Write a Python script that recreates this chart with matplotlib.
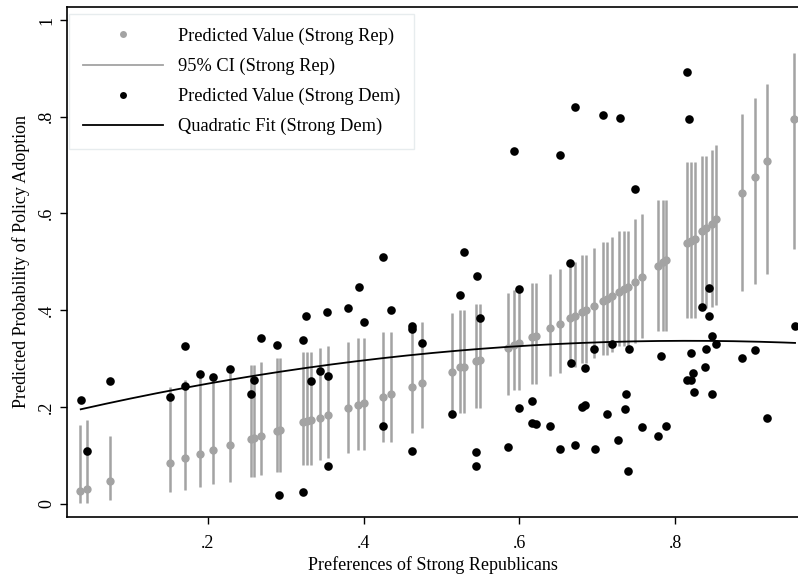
import numpy as np
import matplotlib
matplotlib.use("Agg")
import matplotlib.pyplot as plt
from matplotlib.lines import Line2D

plt.rcParams["font.family"] = ["Liberation Serif", "DejaVu Serif"]

# Strong Republicans: predicted value with 95% CI
rep_x = [0.036, 0.045, 0.074, 0.151, 0.171, 0.1905, 0.207, 0.228, 0.255, 0.259,
         0.268, 0.289, 0.293, 0.322, 0.327, 0.332, 0.344, 0.355, 0.380, 0.393,
         0.401, 0.425, 0.435, 0.462, 0.475, 0.513, 0.524, 0.529, 0.544, 0.550,
         0.585, 0.593, 0.600, 0.616, 0.622, 0.640, 0.652, 0.665, 0.672, 0.681,
         0.685, 0.696, 0.708, 0.713, 0.719, 0.728, 0.735, 0.740, 0.749, 0.757,
         0.778, 0.784, 0.788, 0.815, 0.820, 0.826, 0.834, 0.840, 0.847, 0.852,
         0.886, 0.903, 0.918, 0.953]
rep_y = [0.027, 0.030, 0.047, 0.085, 0.094, 0.103, 0.111, 0.121, 0.134, 0.136,
         0.140, 0.151, 0.152, 0.168, 0.170, 0.172, 0.178, 0.183, 0.197, 0.204,
         0.208, 0.221, 0.226, 0.242, 0.250, 0.273, 0.282, 0.283, 0.294, 0.297,
         0.321, 0.328, 0.332, 0.344, 0.347, 0.363, 0.372, 0.383, 0.387, 0.397,
         0.401, 0.409, 0.420, 0.424, 0.430, 0.438, 0.443, 0.449, 0.459, 0.469,
         0.492, 0.500, 0.504, 0.539, 0.543, 0.548, 0.563, 0.569, 0.578, 0.588,
         0.643, 0.676, 0.709, 0.796]
rep_lo = [0.002, 0.002, 0.008, 0.025, 0.028, 0.035, 0.040, 0.045, 0.056, 0.056,
          0.059, 0.066, 0.066, 0.080, 0.080, 0.080, 0.090, 0.094, 0.105, 0.112,
          0.112, 0.128, 0.128, 0.147, 0.156, 0.187, 0.188, 0.188, 0.197, 0.197,
          0.225, 0.235, 0.235, 0.248, 0.248, 0.263, 0.271, 0.283, 0.283, 0.291,
          0.291, 0.301, 0.308, 0.308, 0.314, 0.325, 0.325, 0.325, 0.332, 0.342,
          0.358, 0.358, 0.358, 0.383, 0.383, 0.383, 0.405, 0.405, 0.407, 0.411,
          0.440, 0.455, 0.474, 0.526]
rep_hi = [0.163, 0.173, 0.140, 0.242, 0.256, 0.263, 0.263, 0.271, 0.287, 0.287,
          0.293, 0.301, 0.301, 0.314, 0.314, 0.314, 0.321, 0.325, 0.335, 0.342,
          0.342, 0.354, 0.354, 0.359, 0.375, 0.394, 0.401, 0.401, 0.412, 0.412,
          0.435, 0.442, 0.442, 0.457, 0.457, 0.474, 0.486, 0.500, 0.500, 0.514,
          0.514, 0.528, 0.540, 0.540, 0.552, 0.564, 0.564, 0.564, 0.588, 0.599,
          0.628, 0.628, 0.628, 0.707, 0.707, 0.707, 0.718, 0.718, 0.732, 0.742,
          0.806, 0.838, 0.868, 0.932]

# Strong Democrats: predicted value
dem_x = [0.037, 0.045, 0.074, 0.152, 0.171, 0.171, 0.1905, 0.207, 0.228, 0.259,
         0.255, 0.268, 0.289, 0.322, 0.326, 0.332, 0.344, 0.292, 0.322, 0.355,
         0.353, 0.354, 0.380, 0.394, 0.401, 0.425, 0.435, 0.425, 0.462, 0.462,
         0.475, 0.462, 0.513, 0.524, 0.529, 0.546, 0.550, 0.545, 0.544, 0.593,
         0.599, 0.600, 0.585, 0.616, 0.616, 0.622, 0.640, 0.652, 0.652, 0.665,
         0.666, 0.671, 0.708, 0.729, 0.815, 0.818, 0.748, 0.684, 0.696, 0.719,
         0.741, 0.782, 0.821, 0.823, 0.815, 0.821, 0.824, 0.737, 0.681, 0.684,
         0.713, 0.736, 0.757, 0.788, 0.778, 0.672, 0.697, 0.727, 0.740, 0.843,
         0.834, 0.844, 0.847, 0.852, 0.840, 0.839, 0.847, 0.886, 0.903, 0.918,
         0.954]
dem_y = [0.214, 0.109, 0.253, 0.221, 0.243, 0.325, 0.269, 0.261, 0.279, 0.256,
         0.227, 0.343, 0.328, 0.338, 0.387, 0.253, 0.275, 0.017, 0.024, 0.263,
         0.396, 0.077, 0.404, 0.448, 0.375, 0.511, 0.400, 0.161, 0.368, 0.361,
         0.332, 0.109, 0.186, 0.432, 0.520, 0.470, 0.384, 0.106, 0.078, 0.729,
         0.443, 0.197, 0.118, 0.213, 0.166, 0.165, 0.161, 0.720, 0.114, 0.497,
         0.290, 0.820, 0.804, 0.797, 0.892, 0.795, 0.651, 0.280, 0.320, 0.330,
         0.320, 0.305, 0.311, 0.270, 0.256, 0.256, 0.230, 0.226, 0.199, 0.203,
         0.186, 0.196, 0.159, 0.161, 0.139, 0.121, 0.113, 0.131, 0.067, 0.445,
         0.407, 0.389, 0.347, 0.330, 0.320, 0.282, 0.227, 0.301, 0.317, 0.177,
         0.368]

y_ticks = [0, 0.2, 0.4, 0.6, 0.8, 1]
y_ticklabels = ["0", ".2", ".4", ".6", ".8", "1"]
x_ticks = [0.2, 0.4, 0.6, 0.8]
x_ticklabels = [".2", ".4", ".6", ".8"]

gray = "#a3a3a3"

fig = plt.figure(figsize=(7.98, 5.77), dpi=100)
ax = fig.add_axes([0.084, 0.104, 0.916, 0.884])

ax.vlines(rep_x, rep_lo, rep_hi, color=gray, linewidth=1.8, zorder=1)
ax.plot(rep_x, rep_y, "o", color=gray, markersize=6, markeredgewidth=0, zorder=2)
ax.plot(dem_x, dem_y, "o", color="black", markersize=6.2, markeredgewidth=0, zorder=3)

# quadratic fit through the Strong Dem points
coef = np.polyfit(dem_x, dem_y, 2)
fx = np.linspace(min(dem_x), max(dem_x), 200)
ax.plot(fx, np.polyval(coef, fx), color="black", linewidth=1.3, zorder=4)

ax.set_xlim(0.0194, 0.9578)
ax.set_ylim(-0.0275, 1.027)
ax.set_xticks(x_ticks)
ax.set_xticklabels(x_ticklabels)
ax.set_yticks(y_ticks)
ax.set_yticklabels(y_ticklabels, rotation=90, va="center")
ax.tick_params(direction="out", length=5, width=1, labelsize=13, color="black")
ax.tick_params(axis="x", pad=8)
for s in ["left", "bottom", "top"]:
    ax.spines[s].set_linewidth(1.2)
ax.spines["right"].set_visible(False)

ax.set_xlabel("Preferences of Strong Republicans", fontsize=13, labelpad=3)
ax.set_ylabel("Predicted Probability of Policy Adoption", fontsize=13, labelpad=6)

handles = [
    Line2D([], [], marker="o", linestyle="none", color=gray, markersize=5, markeredgewidth=0),
    Line2D([], [], color=gray, linewidth=1.3),
    Line2D([], [], marker="o", linestyle="none", color="black", markersize=5, markeredgewidth=0),
    Line2D([], [], color="black", linewidth=1.3),
]
labels = ["Predicted Value (Strong Rep)", "95% CI (Strong Rep)",
          "Predicted Value (Strong Dem)", "Quadratic Fit (Strong Dem)"]
leg = ax.legend(handles, labels, loc="upper left", bbox_to_anchor=(0.0, 0.99),
                fontsize=13.2, frameon=True, fancybox=False, handlelength=4.4,
                handletextpad=0.8, labelspacing=0.7, borderpad=0.75, borderaxespad=0.1)
leg.get_frame().set_edgecolor("#e2e8ea")
leg.get_frame().set_linewidth(1.0)

fig.savefig("out.png", dpi=100)
